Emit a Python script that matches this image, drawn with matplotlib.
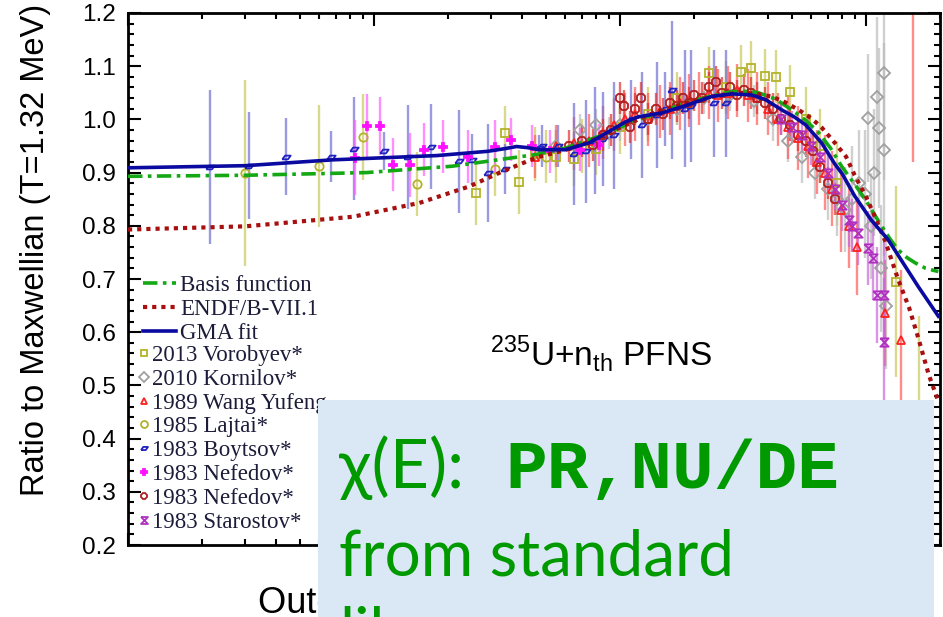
import matplotlib
matplotlib.use("Agg")
import matplotlib.pyplot as plt
from matplotlib.path import Path
from matplotlib.patches import Rectangle
from matplotlib.lines import Line2D
from matplotlib.ticker import MultipleLocator, LogLocator, NullFormatter, FormatStrFormatter

plt.rcParams['font.family'] = ['Liberation Sans', 'DejaVu Sans']

# ---- evaluated curves (E in MeV, ratio to Maxwellian) ----
basis_E = [0.01, 0.03, 0.093, 0.208, 0.33, 0.456, 0.60, 0.82, 1.0, 1.19, 1.5, 1.85, 2.3, 2.85,
           3.3, 3.66, 4.3, 4.99, 5.7, 6.42, 7.2, 7.96, 9.0, 9.96, 10.8, 11.6, 12.5, 13.5, 14.7, 15.9, 17.5, 19.7]
basis_r = [0.893, 0.895, 0.900, 0.912, 0.925, 0.934, 0.946, 0.968, 0.985, 1.000, 1.016, 1.031, 1.043, 1.052,
           1.053, 1.050, 1.038, 1.018, 0.998, 0.975, 0.945, 0.912, 0.878, 0.849, 0.822, 0.799, 0.776, 0.755, 0.740, 0.730, 0.720, 0.714]

endf_E = [0.01, 0.03, 0.082, 0.153, 0.244, 0.332, 0.456, 0.604, 0.75, 0.902, 1.1, 1.31, 1.65, 2.09, 2.5, 3.04,
          3.5, 4.14, 4.7, 5.32, 6.0, 6.6, 7.5, 8.3, 9.0, 10.0, 11.0, 12.0, 13.5, 15.0, 16.3, 18.0, 19.7]
endf_r = [0.793, 0.799, 0.817, 0.843, 0.874, 0.902, 0.928, 0.943, 0.958, 0.975, 0.993, 1.009, 1.024, 1.037, 1.045, 1.050,
          1.049, 1.043, 1.032, 1.018, 1.002, 0.985, 0.955, 0.930, 0.895, 0.855, 0.812, 0.770, 0.700, 0.645, 0.590, 0.520, 0.470]

gma_E = [0.01, 0.03, 0.068, 0.18, 0.29, 0.34, 0.38, 0.42, 0.47, 0.60, 0.75, 0.90, 1.05, 1.19, 1.48, 1.85, 2.36,
         2.85, 3.43, 3.91, 4.54, 5.1, 5.68, 6.6, 7.5, 8.0, 9.0, 10.5, 12.3, 13.5, 16.3, 19.7]
gma_r = [0.909, 0.913, 0.924, 0.932, 0.940, 0.945, 0.949, 0.947, 0.943, 0.943, 0.956, 0.977, 0.995, 1.005, 1.012, 1.026, 1.043,
         1.048, 1.046, 1.037, 1.018, 1.005, 0.990, 0.956, 0.915, 0.898, 0.856, 0.811, 0.774, 0.745, 0.686, 0.630]

# ---- experimental data (E, ratio, uncertainty) ----
vor_E = [0.26, 0.34, 0.39, 0.45, 0.55, 0.65, 0.8, 1.0, 1.3, 1.7, 2.3, 2.7, 3.1, 3.4, 3.9, 4.3, 4.9, 5.7, 6.5, 7.6, 13.2, 16.5]
vor_r = [0.862, 0.975, 0.883, 0.935, 0.93, 0.925, 0.945, 0.985, 1.01, 1.04, 1.087, 1.06, 1.09, 1.097, 1.082, 1.08, 1.052,
         1.0, 0.95, 0.88, 0.695, 0.43]
vor_e = [0.06, 0.05, 0.06, 0.05, 0.05, 0.05, 0.05, 0.05, 0.05, 0.05, 0.05, 0.05, 0.05, 0.05, 0.05, 0.05, 0.05,
         0.06, 0.07, 0.08, 0.18, 0.2]

kor_E = [0.55, 0.69, 0.8, 0.9, 1.0, 1.3, 1.7, 2.2, 2.8, 3.5, 4.2, 4.8, 5.5, 6.2, 7.0, 7.6, 8.2, 8.8, 9.4, 9.9,
         10.2, 10.5, 10.8, 11.1, 11.3, 11.5, 11.8, 11.8, 12.1]
kor_r = [0.95, 0.98, 0.99, 0.975, 0.99, 1.0, 1.02, 1.04, 1.045, 1.035, 1.0, 0.96, 0.93, 0.9, 0.87, 0.85, 0.83, 0.85,
         0.88, 0.86, 1.003, 0.8, 0.9, 1.043, 0.984, 0.72, 1.087, 0.943, 0.65]
kor_e = [0.03, 0.03, 0.03, 0.03, 0.03, 0.03, 0.03, 0.03, 0.03, 0.03, 0.04, 0.04, 0.05, 0.05, 0.06, 0.07, 0.08, 0.1,
         0.1, 0.12, 0.12, 0.1, 0.12, 0.15, 0.15, 0.12, 0.2, 0.2, 0.12]

wang_E = [0.45, 0.55, 0.65, 0.75, 0.85, 0.95, 1.05, 1.15, 1.3, 1.45, 1.6, 1.75, 1.9, 2.1, 2.3, 2.5, 2.75, 3.0, 3.3,
          3.6, 4.0, 4.4, 4.8, 5.3, 5.8, 6.3, 6.8, 7.3, 7.9, 8.5, 9.2, 12.0, 13.9, 15.5]
wang_r = [0.93, 0.95, 0.955, 0.96, 0.975, 0.99, 1.0, 1.01, 1.0, 1.015, 1.02, 1.03, 1.035, 1.04, 1.05, 1.045, 1.05,
          1.055, 1.045, 1.04, 1.02, 1.0, 0.985, 0.965, 0.95, 0.92, 0.9, 0.87, 0.83, 0.8, 0.76, 0.636, 0.586, 1.3]
wang_e = [0.04, 0.04, 0.05, 0.05, 0.05, 0.05, 0.05, 0.05, 0.05, 0.05, 0.05, 0.05, 0.05, 0.05, 0.05, 0.05, 0.05,
          0.05, 0.05, 0.05, 0.05, 0.05, 0.06, 0.06, 0.06, 0.06, 0.07, 0.07, 0.08, 0.08, 0.09, 0.1, 0.13, 0.38]

laj_E = [0.030, 0.060, 0.090, 0.15, 0.31, 0.5, 0.7]
laj_r = [0.899, 0.913, 0.967, 0.879, 0.906, 0.93, 0.95]
laj_e = [0.175, 0.115, 0.08, 0.06, 0.05, 0.05, 0.05]

boy_E = [0.0215, 0.031, 0.044, 0.067, 0.083, 0.11, 0.138, 0.17, 0.222, 0.25, 0.29, 0.34, 0.47, 0.48, 0.56, 0.65,
         0.73, 0.79, 0.85, 0.95, 1.11, 1.23, 1.41, 1.53, 1.62, 1.83, 1.95, 2.42, 2.7]
boy_r = [0.911, 0.913, 0.93, 0.93, 0.945, 0.941, 0.93, 0.949, 0.921, 0.924, 0.899, 0.906, 0.946, 0.95, 0.95, 0.935,
         0.94, 0.96, 0.963, 0.97, 1.0, 0.99, 1.008, 1.02, 1.055, 1.02, 1.025, 1.03, 1.03]
boy_e = [0.145, 0.10, 0.072, 0.048, 0.097, 0.036, 0.098, 0.08, 0.097, 0.048, 0.092, 0.047, 0.025, 0.04, 0.04, 0.095,
         0.097, 0.10, 0.088, 0.10, 0.075, 0.10, 0.10, 0.07, 0.13, 0.11, 0.105, 0.10, 0.10]

nef1_E = [0.084, 0.094, 0.106, 0.12, 0.14, 0.16, 0.19, 0.24, 0.31, 0.36, 0.44, 0.52, 0.69, 0.82]
nef1_r = [0.928, 0.988, 0.988, 0.915, 0.915, 0.943, 0.949, 0.93, 0.949, 0.962, 0.95, 0.94, 0.943, 0.952]
nef1_e = [0.07, 0.06, 0.055, 0.05, 0.06, 0.05, 0.05, 0.05, 0.05, 0.04, 0.04, 0.04, 0.04, 0.04]

nef2_E = [0.62, 0.70, 0.78, 0.85, 0.92, 1.0, 1.04, 1.10, 1.15, 1.22, 1.3, 1.4, 1.5, 1.6, 1.7, 1.8, 1.9, 2.0, 2.15,
          2.3, 2.45, 2.6, 2.8, 3.0, 3.2, 3.4, 3.6, 3.9, 4.2, 4.5, 4.9, 5.3, 5.7, 6.1, 6.5, 7.0, 7.5]
nef2_r = [0.95, 0.96, 0.952, 0.97, 0.98, 1.04, 1.025, 0.985, 1.02, 1.04, 1.0, 1.02, 1.01, 1.03, 1.025, 1.04, 1.03,
          1.045, 1.04, 1.06, 1.07, 1.05, 1.06, 1.045, 1.055, 1.05, 1.04, 1.03, 1.02, 1.0, 0.99, 0.97, 0.96, 0.94,
          0.91, 0.88, 0.85]
nef2_e = [0.03] * 37

sta_E = [4.5, 5.0, 5.5, 6.0, 6.5, 7.0, 7.5, 8.0, 8.5, 8.8, 9.3, 10.2, 10.7, 11.1, 11.8, 11.8]
sta_r = [1.0, 0.985, 0.97, 0.95, 0.93, 0.9, 0.87, 0.84, 0.81, 0.80, 0.787, 0.758, 0.74, 0.67, 0.67, 0.582]
sta_e = [0.03, 0.03, 0.03, 0.035, 0.035, 0.04, 0.04, 0.05, 0.05, 0.05, 0.06, 0.07, 0.08, 0.09, 0.1, 0.12]

labels = ['2013 Vorobyev*', '2010 Kornilov*', '1989 Wang Yufeng', '1985 Lajtai*',
          '1983 Boytsov*', '1983 Nefedov*', '1983 Nefedov*', '1983 Starostov*']

boy_marker = Path([(-1, -0.45), (0.35, -0.45), (1, 0.45), (-0.35, 0.45), (-1, -0.45)])
hourglass = Path([(-1, 1), (1, 1), (-1, -1), (1, -1), (-1, 1)])

olive = '#b3b32a'
series = [
    (vor_E, vor_r, vor_e, 's', olive, '#c9c95a', True),
    (kor_E, kor_r, kor_e, 'D', '#a0a0a0', '#bcbcbc', True),
    (wang_E, wang_r, wang_e, '^', '#ff2020', '#ff5a5a', True),
    (laj_E, laj_r, laj_e, 'o', olive, '#c9c95a', True),
    (boy_E, boy_r, boy_e, boy_marker, '#2222c0', '#7070d8', True),
    (nef1_E, nef1_r, nef1_e, 'P', '#ff10ff', '#ff60ff', False),
    (nef2_E, nef2_r, nef2_e, '8', '#b02020', '#e03030', True),
    (sta_E, sta_r, sta_e, hourglass, '#b030c0', '#c868d8', True),
]

fig = plt.figure(figsize=(9.43, 6.17), dpi=100)
ax = fig.add_axes([128 / 943, 1 - 545 / 617, (940 - 128) / 943, (545 - 13) / 617])

for E, r, e, mk, col, ecol, hollow in series:
    ln, caps, bars = ax.errorbar(E, r, yerr=e, fmt='', ls='none', marker=mk, ms=6, mec=col, mew=1.3,
                                 mfc='none' if hollow else col, ecolor=ecol,
                                 elinewidth=1.7, capsize=0, zorder=2)
    bars[0].set_alpha(0.7)

ax.plot(basis_E, basis_r, color='#14a814', lw=2.6, ls=(0, (4, 1.5, 1, 1.5)), zorder=4)
ax.plot(endf_E, endf_r, color='#a81010', lw=3.0, ls=(0, (1, 1.2)), zorder=4)
ax.plot(gma_E, gma_r, color='#0a0aa0', lw=2.6, zorder=5)

ax.set_xscale('log')
ax.set_xlim(0.01, 20)
ax.set_ylim(0.2, 1.2)
ax.yaxis.set_major_locator(MultipleLocator(0.1))
ax.yaxis.set_minor_locator(MultipleLocator(0.02))
ax.yaxis.set_major_formatter(FormatStrFormatter('%.1f'))
ax.xaxis.set_major_locator(LogLocator(base=10))
ax.xaxis.set_minor_locator(LogLocator(base=10, subs=range(2, 10)))
ax.xaxis.set_major_formatter(NullFormatter())
ax.xaxis.set_minor_formatter(NullFormatter())
ax.tick_params(which='both', direction='in', top=True, right=True, width=1.5)
ax.tick_params(which='major', length=9, labelsize=17.5, pad=9)
ax.tick_params(which='minor', length=4.5)
for s in ax.spines.values():
    s.set_linewidth(2)

# legends
leg_font = {'family': 'Liberation Serif', 'size': 16.5}
line_handles = [Line2D([], [], color='#14a814', lw=2.6, ls=(0, (4, 1.5, 1, 1.5))),
                Line2D([], [], color='#a81010', lw=3.0, ls=(0, (1, 1.2))),
                Line2D([], [], color='#0a0aa0', lw=2.6)]
leg1 = ax.legend(line_handles, ['Basis function', 'ENDF/B-VII.1', 'GMA fit'], prop=leg_font,
                 loc='upper left', bbox_to_anchor=(15 / 812, (545 - 275) / 532), frameon=False,
                 handlelength=1.45, handletextpad=0.17, labelspacing=0.12, borderpad=0, borderaxespad=0)
ax.add_artist(leg1)
mk_handles = [Line2D([], [], ls='none', marker=mk, ms=5, mec=col, mew=1.3,
                     mfc='none' if hollow else col) for _, _, _, mk, col, _, hollow in series]
leg2 = ax.legend(mk_handles, labels, prop=leg_font, loc='upper left',
                 bbox_to_anchor=(11.5 / 812, (545 - 345) / 532), frameon=False,
                 handlelength=0.4, handletextpad=0.15, labelspacing=0.12, borderpad=0, borderaxespad=0)
for lg in (leg1, leg2):
    for t in lg.get_texts():
        t.set_color('#1c1c3a')

fig.text(36 / 943, 1 - 250 / 617, 'Ratio to Maxwellian (T=1.32 MeV)', rotation=90,
         ha='center', va='center', fontsize=23.5)
fig.text(490 / 943, 1 - 365 / 617, r'$^{\mathregular{235}}$U+n$_{\mathregular{th}}$ PFNS',
         fontsize=24, ha='left', va='baseline')
fig.text(258 / 943, 1 - 613 / 617, 'Outgoing neutron energy (MeV)', fontsize=26,
         ha='left', va='baseline')

# overlay box
fig.add_artist(Rectangle((318 / 943, 0), (934 - 318) / 943, (617 - 400) / 617,
                         transform=fig.transFigure, facecolor='#dae8f5', edgecolor='none', zorder=10))
green = '#009a00'
fig.text(339 / 943, 1 - 488 / 617, 'χ(E):', fontsize=49, color=green, family=['Lato', 'DejaVu Sans'],
         ha='left', va='baseline', zorder=11)
fig.text(505 / 943, 1 - 488 / 617, 'PR,NU/DE', fontsize=50, color=green, family='Liberation Mono',
         weight='bold', ha='left', va='baseline', zorder=11)
fig.text(339 / 943, 1 - 575 / 617, 'from standard', fontsize=46, color=green, family=['Lato', 'DejaVu Sans'],
         ha='left', va='baseline', zorder=11)
fig.text(339 / 943, 1 - 653 / 617, 'library', fontsize=46, color=green, family=['Lato', 'DejaVu Sans'],
         ha='left', va='baseline', zorder=11)

fig.savefig('out.png', dpi=100)
